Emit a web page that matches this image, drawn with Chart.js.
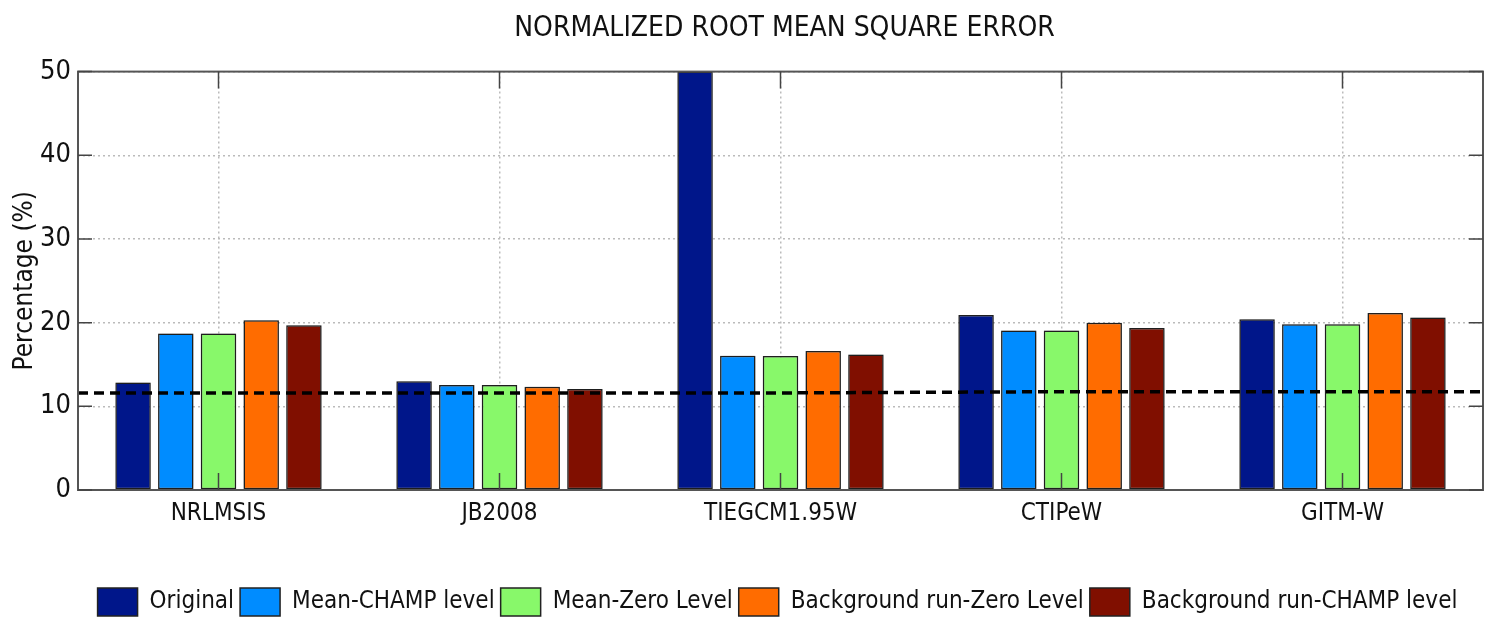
<!DOCTYPE html>
<html>
<head>
<meta charset="utf-8">
<title>NRMSE</title>
<script src="https://cdn.jsdelivr.net/npm/chart.js@4.4.0/dist/chart.umd.min.js"></script>
<style>
  html, body { margin: 0; padding: 0; background: #fff; }
  #wrap { width: 1493px; height: 621px; }
</style>
</head>
<body>
<div id="wrap"><canvas id="grafica"></canvas></div>
<script>
// datos
const modelos = ['NRLMSIS', 'JB2008', 'TIEGCM1.95W', 'CTIPeW', 'GITM-W'];
const original = [12.85, 13.0, 50, 20.9, 20.4];
const meanChamp = [18.7, 12.55, 16.05, 19.07, 19.8];
const meanZero = [18.7, 12.55, 16.0, 19.05, 19.8];
const bgZero = [20.3, 12.35, 16.6, 20.0, 21.15];
const bgChamp = [19.7, 12.07, 16.2, 19.35, 20.6];
// linea discontinua de referencia
const referencia = [11.6, 11.6, 11.6, 11.75, 11.75];
const yTicks = [0, 10, 20, 30, 40, 50];

const fuente = "'DejaVu Sans Condensed', 'Liberation Sans Narrow', 'Liberation Sans', sans-serif";

// mueve titulo y leyenda para centrarlos como en la figura original
const acomodar = {
    id: 'acomodar',
    afterLayout(chart) {
        const t = chart.titleBlock;
        t.left += 38; t.right += 38;
        t.top += 2; t.bottom += 2;
        const l = chart.legend;
        l.left += 31; l.right += 31;
        l.top += 5; l.bottom += 5;
    },
    // sombra gris alrededor de las barras
    beforeDatasetsDraw(chart) {
        const ctx = chart.ctx;
        ctx.save();
        ctx.shadowColor = 'rgba(0,0,0,0.35)';
        ctx.shadowBlur = 4;
        ctx.shadowOffsetX = 0;
        ctx.shadowOffsetY = 0;
    },
    afterDatasetsDraw(chart) {
        chart.ctx.restore();
    }
};

// marco del grafico, ticks hacia dentro y linea discontinua
const marco = {
    id: 'marco',
    afterDatasetsDraw(chart) {
        const ctx = chart.ctx;
        const a = chart.chartArea;
        const x = chart.scales.x;
        const y = chart.scales.y;
        ctx.save();
        // linea discontinua
        ctx.beginPath();
        ctx.strokeStyle = '#000';
        ctx.lineWidth = 3.5;
        ctx.setLineDash([10, 6]);
        ctx.moveTo(a.left, y.getPixelForValue(referencia[0]));
        for (let i = 0; i < referencia.length; i++) {
            ctx.lineTo(x.getPixelForValue(i), y.getPixelForValue(referencia[i]));
        }
        ctx.lineTo(a.right, y.getPixelForValue(referencia[referencia.length - 1]));
        ctx.stroke();
        ctx.setLineDash([]);
        // marco
        ctx.strokeStyle = '#555';
        ctx.lineWidth = 2;
        ctx.strokeRect(a.left, a.top, a.right - a.left, a.bottom - a.top);
        // ticks hacia dentro
        ctx.lineWidth = 1.5;
        ctx.strokeStyle = '#444';
        ctx.beginPath();
        yTicks.forEach(v => {
            const py = y.getPixelForValue(v);
            ctx.moveTo(a.left, py); ctx.lineTo(a.left + 14, py);
            ctx.moveTo(a.right, py); ctx.lineTo(a.right - 14, py);
        });
        for (let i = 0; i < modelos.length; i++) {
            const px = x.getPixelForValue(i);
            ctx.moveTo(px, a.top); ctx.lineTo(px, a.top + 17);
            ctx.moveTo(px, a.bottom); ctx.lineTo(px, a.bottom - 17);
        }
        ctx.stroke();
        ctx.restore();
    }
};

const serie = (label, data, color) => ({
    label: label,
    data: data,
    backgroundColor: color,
    borderColor: '#222',
    borderWidth: 1.5,
    borderSkipped: false,
    categoryPercentage: 0.76,
    barPercentage: 0.83
});

const $grafica = document.querySelector('#grafica');
new Chart($grafica, {
    type: 'bar',
    data: {
        labels: modelos,
        datasets: [
            serie('Original', original, '#00168a'),
            serie('Mean-CHAMP level', meanChamp, '#008cff'),
            serie('Mean-Zero Level', meanZero, '#88f86a'),
            serie('Background run-Zero Level', bgZero, '#ff6c00'),
            serie('Background run-CHAMP level', bgChamp, '#800f00')
        ]
    },
    options: {
        responsive: true,
        maintainAspectRatio: false,
        animation: false,
        layout: { padding: { left: 10, right: 10, top: 10, bottom: 0 } },
        plugins: {
            title: {
                display: true,
                text: 'NORMALIZED ROOT MEAN SQUARE ERROR',
                color: '#111',
                font: { family: fuente, size: 28, weight: 'normal' },
                padding: { top: 0, bottom: 28 }
            },
            legend: {
                position: 'bottom',
                labels: {
                    color: '#111',
                    boxWidth: 40,
                    boxHeight: 28,
                    padding: 6,
                    font: { family: fuente, size: 24 }
                }
            },
            tooltip: { enabled: false }
        },
        scales: {
            x: {
                grid: {
                    offset: false,
                    color: '#bbb',
                    lineWidth: 1.5,
                    drawTicks: false
                },
                border: { display: false, dash: [2, 3] },
                ticks: { color: '#111', padding: 9, font: { family: fuente, size: 24 } },
                afterFit(s) { s.height = 87; }
            },
            y: {
                min: 0,
                max: 50,
                afterBuildTicks(s) { s.ticks = yTicks.map(v => ({ value: v })); },
                grid: { color: '#bbb', lineWidth: 1.5, drawTicks: false },
                border: { display: false, dash: [2, 3] },
                ticks: { color: '#111', padding: 7, font: { family: fuente, size: 27 } },
                title: {
                    display: true,
                    text: 'Percentage (%)',
                    color: '#111',
                    font: { family: fuente, size: 26 },
                    padding: 0
                },
                afterFit(s) { s.width = 68; }
            }
        }
    },
    plugins: [acomodar, marco]
});
</script>
</body>
</html>
